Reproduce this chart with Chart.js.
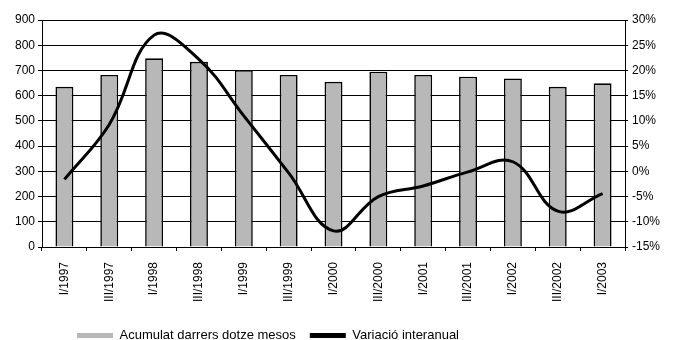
<!DOCTYPE html>
<html>
<head>
<meta charset="utf-8">
<script src="https://cdn.jsdelivr.net/npm/chart.js@4/dist/chart.umd.min.js"></script>
<style>
  html, body { margin: 0; padding: 0; background: #fff; }
  #wrap { width: 673px; height: 340px; }
</style>
</head>
<body>
<div id="wrap"><canvas id="myChart" width="673" height="340"></canvas></div>
<script>
// períodes (semestres)
const periodes = ['I/1997', 'III/1997', 'I/1998', 'III/1998', 'I/1999', 'III/1999', 'I/2000',
  'III/2000', 'I/2001', 'III/2001', 'I/2002', 'III/2002', 'I/2003'];

// acumulat darrers dotze mesos (eix esquerre)
const acumulat = [635, 682, 748, 734, 701, 682, 655, 695, 682, 675, 668, 635, 649];

// variació interanual en % (eix dret)
const variacio = [-1.6, 9.3, 27.0, 22.2, 11.0, -0.3, -11.8, -5.0, -2.9, -0.1, 1.9, -7.9, -4.4];

// límits dels eixos
const eixEsq = { min: 0, max: 900, pas: 100 };
const eixDret = { min: -15, max: 30, pas: 5 };

Chart.defaults.font.family = '"Liberation Sans", Arial, Helvetica, sans-serif';
Chart.defaults.font.size = 12;
Chart.defaults.color = '#000';

const ctx = document.getElementById('myChart').getContext('2d');

// la llegenda va una mica desplaçada a l'esquerra i avall
const legendSpot = {
  id: 'legendSpot',
  afterLayout(chart) {
    const l = chart.legend;
    if (!l) return;
    l.left = 63;
    l.right = 63 + 673;
    l.top += 12;
    l.bottom += 12;
  }
};

const myChart = new Chart(ctx, {
  type: 'bar',
  data: {
    labels: periodes,
    datasets: [
      {
        type: 'bar',
        label: 'Acumulat darrers dotze mesos',
        data: acumulat,
        backgroundColor: '#b8b8b8',
        borderColor: '#000',
        borderWidth: 1.6,
        barPercentage: 0.4,
        categoryPercentage: 1,
        yAxisID: 'y',
        order: 1
      },
      {
        type: 'line',
        label: 'Variació interanual',
        data: variacio,
        borderColor: '#000',
        backgroundColor: '#000',
        borderWidth: 3,
        pointRadius: 0,
        tension: 0.4,
        yAxisID: 'y1',
        order: 0
      }
    ]
  },
  options: {
    responsive: false,
    animation: false,
    devicePixelRatio: 1,
    layout: { padding: { top: 20, left: 0, right: 0, bottom: 0 } },
    plugins: {
      tooltip: { enabled: false },
      legend: {
        position: 'bottom',
        align: 'start',
        labels: {
          font: { size: 13 },
          boxWidth: 36,
          boxHeight: 5,
          padding: 14,
          sort: (a, b) => a.datasetIndex - b.datasetIndex,
          generateLabels(chart) {
            const items = Chart.defaults.plugins.legend.labels.generateLabels(chart);
            items.forEach(it => {
              it.lineWidth = 0;
              it.fillStyle = it.datasetIndex === 0 ? '#b8b8b8' : '#000';
            });
            return items;
          }
        }
      }
    },
    scales: {
      x: {
        offset: true,
        grid: {
          offset: true,
          drawOnChartArea: false,
          color: '#000',
          tickLength: 4
        },
        border: { color: '#000', width: 1 },
        ticks: {
          minRotation: 90,
          maxRotation: 90,
          padding: 11,
          autoSkip: false
        },
        afterFit: s => { s.height = 56; }
      },
      y: {
        position: 'left',
        min: eixEsq.min,
        max: eixEsq.max,
        ticks: { stepSize: eixEsq.pas, padding: 3 },
        grid: { color: '#000', lineWidth: 1, tickLength: 4 },
        border: { color: '#000', width: 1 },
        afterFit: s => { s.width = 42; }
      },
      y1: {
        position: 'right',
        min: eixDret.min,
        max: eixDret.max,
        ticks: {
          stepSize: eixDret.pas,
          padding: 4,
          callback: v => v + '%'
        },
        grid: { drawOnChartArea: false, color: '#000', tickLength: 3 },
        border: { color: '#000', width: 1 },
        afterFit: s => { s.width = 48; }
      }
    }
  },
  plugins: [legendSpot]
});
</script>
</body>
</html>
